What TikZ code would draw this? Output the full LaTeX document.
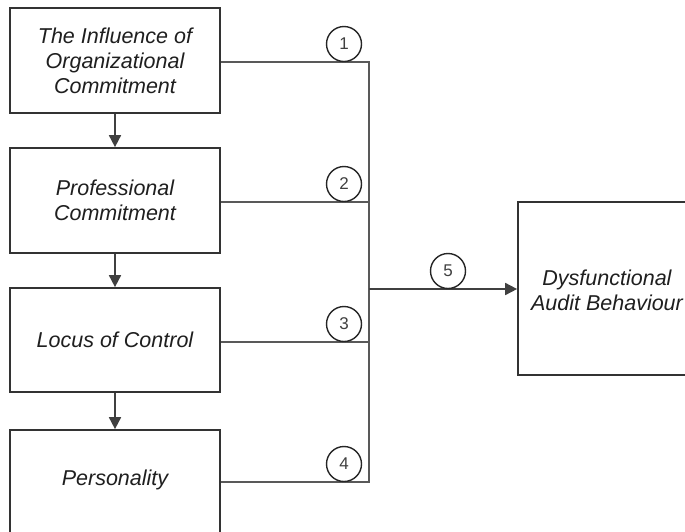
\documentclass[tikz,border=0pt]{standalone}
\usepackage{fontspec}
\setmainfont{Liberation Sans}
\usetikzlibrary{arrows.meta}
\begin{document}
\begin{tikzpicture}[x=1pt,y=-1pt,
  box/.style={draw=black!80,line width=1.7pt,fill=white,inner sep=0pt},
  lbl/.style={align=center,font=\fontsize{21.5}{25}\selectfont\itshape,text=black!88},
  conn/.style={draw=black!65,line width=1.7pt},
  arr/.style={conn,-{Triangle[length=12pt,width=12pt]},draw=black!75,fill=black},
  num/.style={draw=black!85,circle,line width=1.4pt,minimum size=35pt,inner sep=0pt,font=\fontsize{17}{17}\selectfont,text=black!75}]
\clip (0,0) rectangle (685,531);
\fill[white] (0,0) rectangle (685,531);
% left boxes
\node[box,minimum width=210pt,minimum height=105pt] (b1) at (115,60.5) {};
\node[lbl] at (b1) {The Influence of\\Organizational\\Commitment};
\node[box,minimum width=210pt,minimum height=105pt] (b2) at (115,200.5) {};
\node[lbl] at (b2) {Professional\\Commitment};
\node[box,minimum width=210pt,minimum height=104pt] (b3) at (115,340) {};
\node[lbl] at (b3) {Locus of Control};
\node[box,minimum width=210pt,minimum height=104pt] (b4) at (115,482) {};
\node[lbl] at (115,480) {Personality};
% right box
\node[box,minimum width=178pt,minimum height=173pt] (r) at (607,288.5) {};
\node[lbl] at (607,290) {Dysfunctional\\Audit Behaviour};
% vertical arrows
\draw[arr] (b1.south) -- (b2.north);
\draw[arr] (b2.south) -- (b3.north);
\draw[arr] (b3.south) -- (b4.north);
% bus
\coordinate (t) at (369,62);
\coordinate (m2) at (369,202);
\coordinate (m3) at (369,342);
\coordinate (bt) at (369,482);
\coordinate (j) at (369,289);
\draw[conn] (b1.east |- t) -- (t) -- (bt) -- (b4.east |- bt);
\draw[conn] (b2.east |- m2) -- (m2);
\draw[conn] (b3.east |- m3) -- (m3);
\draw[arr] (j) -- (r.west |- j);
% numbers
\node[num] (n1) at (344,44) {1};
\node[num] (n2) at (344,184) {2};
\node[num] (n3) at (344,324) {3};
\node[num] (n4) at (344,464) {4};
\node[num] (n5) at (448,271) {5};
\end{tikzpicture}
\end{document}
